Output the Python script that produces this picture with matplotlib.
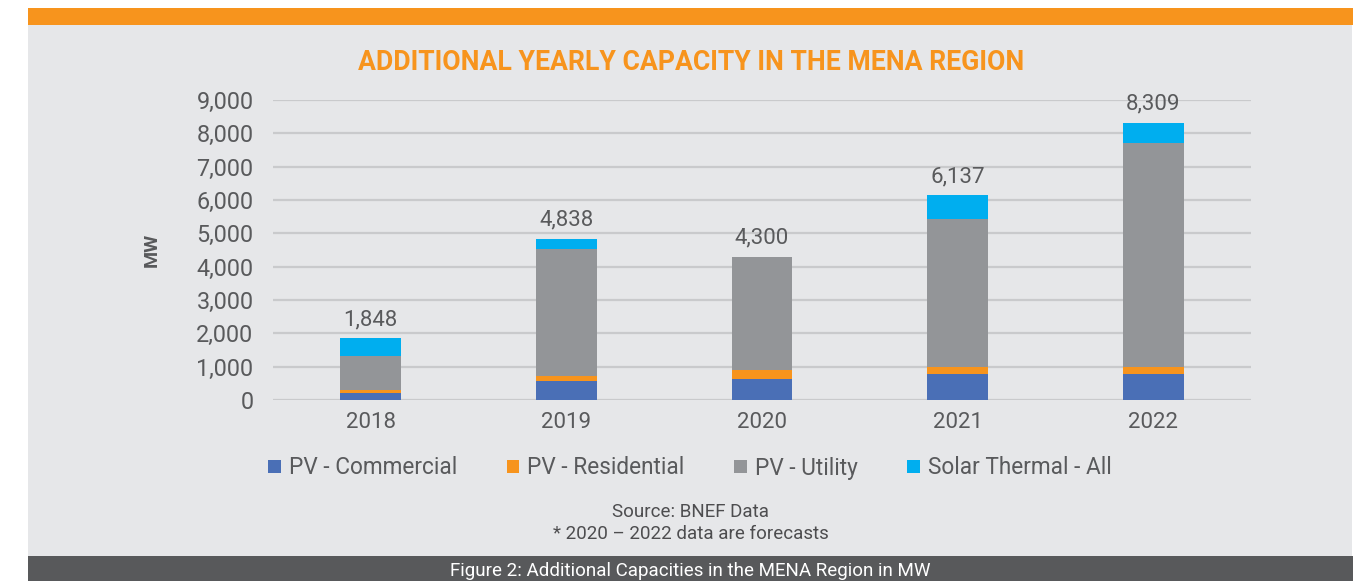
import matplotlib
matplotlib.use("Agg")
import matplotlib.pyplot as plt
from matplotlib.patches import Rectangle
from matplotlib.ticker import FuncFormatter
import numpy as np

plt.rcParams['font.family'] = ['Roboto', 'DejaVu Sans']

years = ["2018", "2019", "2020", "2021", "2022"]
pv_commercial = [220, 560, 640, 780, 780]
pv_residential = [70, 150, 270, 200, 200]
pv_utility = [1030, 3820, 3390, 4440, 6720]
solar_thermal = [528, 308, 0, 717, 609]
totals = [1848, 4838, 4300, 6137, 8309]
series_names = ["PV - Commercial", "PV - Residential", "PV - Utility", "Solar Thermal - All"]
colors = ["#4a6fb6", "#f7941d", "#939598", "#00aeef"]

W, H = 1365, 581
fig = plt.figure(figsize=(W / 100, H / 100), dpi=100)
fig.patch.set_facecolor("white")

def fx(px):
    return px / W

def fy(py):
    return 1 - py / H

# background panels
fig.add_artist(Rectangle((fx(28), fy(556)), fx(1352) - fx(28), fy(25) - fy(556),
                         transform=fig.transFigure, facecolor="#e6e7e9", edgecolor="none", zorder=0))
fig.add_artist(Rectangle((fx(28), fy(25)), fx(1353) - fx(28), fy(8) - fy(25),
                         transform=fig.transFigure, facecolor="#f7941d", edgecolor="none", zorder=0))
fig.add_artist(Rectangle((fx(28), fy(581)), fx(1353) - fx(28), fy(556) - fy(581),
                         transform=fig.transFigure, facecolor="#58595b", edgecolor="none", zorder=0))

ax = fig.add_axes([fx(273), fy(400), fx(1251) - fx(273), fy(100) - fy(400)])
ax.set_facecolor("none")

x = np.arange(len(years))
width = 0.31
bottom = np.zeros(len(years))
for vals, c, name in zip([pv_commercial, pv_residential, pv_utility, solar_thermal], colors, series_names):
    ax.bar(x, vals, width, bottom=bottom, color=c, label=name, zorder=3)
    bottom += np.array(vals)

for xi, t in zip(x, totals):
    ax.text(xi, t + 250, f"{t:,}", ha="center", va="bottom", fontsize=16, color="#595a5c")

ax.set_xlim(-0.5, len(years) - 0.5)
ax.set_ylim(0, 9000)
ax.set_yticks(np.arange(0, 9001, 1000))
ax.yaxis.set_major_formatter(FuncFormatter(lambda v, p: f"{int(v):,}"))
ax.set_xticks(x)
ax.set_xticklabels(years)
ax.grid(axis="y", color="#c9cacc", linewidth=1.6, zorder=0)
ax.set_axisbelow(True)
for s in ax.spines.values():
    s.set_visible(False)
ax.tick_params(axis="both", length=0, labelcolor="#595a5c")
ax.tick_params(axis="y", pad=14, labelsize=16.8)
ax.tick_params(axis="x", pad=9, labelsize=16)

fig.text(fx(152), fy(250), "MW", rotation=90, ha="center", va="center",
         fontsize=14, fontweight="bold", color="#58595b")

fig.text(fx(691), fy(63), "ADDITIONAL YEARLY CAPACITY IN THE MENA REGION", ha="center", va="center",
         fontsize=19.2, fontweight="bold", color="#f7941d")

leg = fig.legend(loc="center", bbox_to_anchor=(fx(690), fy(468)), ncol=4, frameon=False,
                 fontsize=16.3, handlelength=0.55, handleheight=0.55, handletextpad=0.35,
                 columnspacing=2.2, labelcolor="#595a5c")

fig.text(fx(691), fy(512), "Source: BNEF Data", ha="center", va="center", fontsize=13.5, color="#4d4d4f")
fig.text(fx(691), fy(534), "* 2020 \u2013 2022 data are forecasts", ha="center", va="center",
         fontsize=13.5, color="#4d4d4f")
fig.text(fx(690), fy(571), "Figure 2: Additional Capacities in the MENA Region in MW", ha="center",
         va="center", fontsize=13.5, color="white")

fig.savefig("out.png", dpi=100, facecolor=fig.get_facecolor())
